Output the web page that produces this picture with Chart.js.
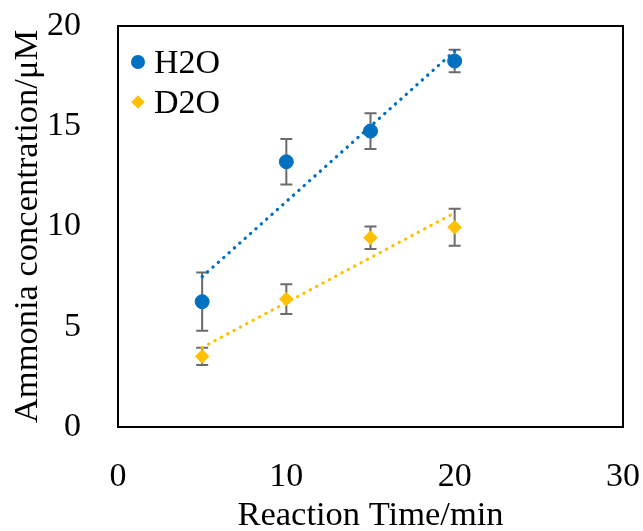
<!DOCTYPE html>
<html>
<head>
<meta charset="utf-8">
<script src="https://cdn.jsdelivr.net/npm/chart.js@4.4.1/dist/chart.umd.min.js"></script>
<style>
html,body{margin:0;padding:0;background:#ffffff;}
#wrap{width:643px;height:531px;position:relative;}
</style>
</head>
<body>
<div id="wrap"><canvas id="c" width="643" height="531"></canvas></div>
<script>
// ---- data ----
const times = [5, 10, 15, 20];
const h2oValues = [6.25, 13.23, 14.76, 18.25];
const h2oErrors = [1.45, 1.14, 0.89, 0.56];
const d2oValues = [3.52, 6.38, 9.44, 9.96];
const d2oErrors = [0.43, 0.74, 0.56, 0.92];
const seriesLabels = ['H2O', 'D2O'];
const xTickValues = [0, 10, 20, 30];
const yTickValues = [0, 5, 10, 15, 20];
const xTitle = 'Reaction Time/min';
const yTitle = 'Ammonia concentration/\u03bcM';

const BLUE = '#0070C0';
const GOLD = '#FFC000';
const FONT = '"Liberation Serif", "Times New Roman", serif';

// least-squares linear trendline (as the spreadsheet trendline), evaluated at the data range ends
function trend(xs, ys) {
  const n = xs.length;
  const mx = xs.reduce((a, b) => a + b, 0) / n;
  const my = ys.reduce((a, b) => a + b, 0) / n;
  let sxy = 0, sxx = 0;
  for (let i = 0; i < n; i++) { sxy += (xs[i] - mx) * (ys[i] - my); sxx += (xs[i] - mx) ** 2; }
  const m = sxy / sxx, b = my - m * mx;
  const x0 = Math.min(...xs), x1 = Math.max(...xs);
  return [{x: x0, y: m * x0 + b}, {x: x1, y: m * x1 + b}];
}
const pts = (xs, ys) => xs.map((x, i) => ({x: x, y: ys[i]}));

const errorBarPlugin = {
  id: 'errorBars',
  beforeDatasetsDraw(chart) {
    const ctx = chart.ctx;
    const xs = chart.scales.x, ys = chart.scales.y;
    ctx.save();
    ctx.strokeStyle = '#6b6b6b';
    ctx.lineWidth = 2;
    chart.data.datasets.forEach(ds => {
      if (!ds.errors) return;
      ds.data.forEach((p, i) => {
        const e = ds.errors[i];
        const px = xs.getPixelForValue(p.x);
        const top = ys.getPixelForValue(p.y + e);
        const bot = ys.getPixelForValue(p.y - e);
        ctx.beginPath();
        ctx.moveTo(px, top); ctx.lineTo(px, bot);
        ctx.moveTo(px - 6, top); ctx.lineTo(px + 6, top);
        ctx.moveTo(px - 6, bot); ctx.lineTo(px + 6, bot);
        ctx.stroke();
      });
    });
    ctx.restore();
  }
};

const framePlugin = {
  id: 'frame',
  afterDraw(chart) {
    const {left, top, right, bottom} = chart.chartArea;
    const ctx = chart.ctx;
    ctx.save();
    ctx.strokeStyle = '#000000';
    ctx.lineWidth = 2;
    ctx.strokeRect(left, top, right - left, bottom - top);
    ctx.restore();
  }
};

const legendPlugin = {
  id: 'innerLegend',
  afterDraw(chart) {
    const ctx = chart.ctx;
    const {left, top} = chart.chartArea;
    ctx.save();
    ctx.font = '34px ' + FONT;
    ctx.textBaseline = 'alphabetic';
    ctx.textAlign = 'left';
    let row = 0;
    chart.data.datasets.forEach(ds => {
      if (!ds.inLegend) return;
      const cx = left + 20, cy = top + 36 + row * 40;
      ctx.fillStyle = ds.backgroundColor;
      ctx.strokeStyle = ds.borderColor;
      Chart.helpers.drawPoint(ctx, {pointStyle: ds.pointStyle, radius: ds.legendRadius, borderWidth: 0, rotation: 0}, cx, cy);
      ctx.fillStyle = '#000000';
      ctx.fillText(ds.label, left + 36, cy + 10.5);
      row++;
    });
    ctx.restore();
  }
};

new Chart(document.getElementById('c'), {
  type: 'scatter',
  data: {
    datasets: [
      {
        label: seriesLabels[0], data: pts(times, h2oValues), errors: h2oErrors, inLegend: true,
        pointStyle: 'circle', pointRadius: 7, pointBorderWidth: 1, legendRadius: 7,
        backgroundColor: BLUE, borderColor: BLUE, showLine: false
      },
      {
        label: seriesLabels[1], data: pts(times, d2oValues), errors: d2oErrors, inLegend: true,
        pointStyle: 'rectRot', pointRadius: 6.8, pointBorderWidth: 1, legendRadius: 6.8,
        backgroundColor: GOLD, borderColor: GOLD, showLine: false
      },
      {
        label: 'H2O trend', data: trend(times, h2oValues), showLine: true, pointRadius: 0,
        borderColor: BLUE, backgroundColor: BLUE, borderWidth: 3.2, borderDash: [0.3, 6.9], borderCapStyle: 'round'
      },
      {
        label: 'D2O trend', data: trend(times, d2oValues), showLine: true, pointRadius: 0,
        borderColor: GOLD, backgroundColor: GOLD, borderWidth: 3.2, borderDash: [0.3, 6.9], borderCapStyle: 'round'
      }
    ]
  },
  options: {
    responsive: false,
    animation: false,
    devicePixelRatio: 1,
    layout: {padding: {left: 0, top: 26, right: 20, bottom: 0}},
    plugins: {legend: {display: false}, tooltip: {enabled: false}},
    scales: {
      x: {
        type: 'linear', min: 0, max: 30,
        afterBuildTicks: s => { s.ticks = xTickValues.map(v => ({value: v})); },
        afterFit: s => { s.height = 104; s.paddingLeft = 0; s.paddingRight = 0; },
        grid: {display: false}, border: {display: false},
        ticks: {color: '#000', padding: 22, font: {family: FONT, size: 34}, maxRotation: 0},
        title: {display: true, text: xTitle, color: '#000', font: {family: FONT, size: 34.5, lineHeight: 0.85}, padding: {top: 0, bottom: 0}}
      },
      y: {
        type: 'linear', min: 0, max: 20,
        afterBuildTicks: s => { s.ticks = yTickValues.map(v => ({value: v})); },
        afterFit: s => { s.width = 118; s.paddingTop = 0; s.paddingBottom = 0; },
        grid: {display: false}, border: {display: false},
        ticks: {color: '#000', padding: 29, font: {family: FONT, size: 34}},
        title: {display: true, text: yTitle, color: '#000', font: {family: FONT, size: 34.5, lineHeight: 1.2}, padding: {top: 7, bottom: 0}}
      }
    }
  },
  plugins: [errorBarPlugin, framePlugin, legendPlugin]
});
</script>
</body>
</html>
